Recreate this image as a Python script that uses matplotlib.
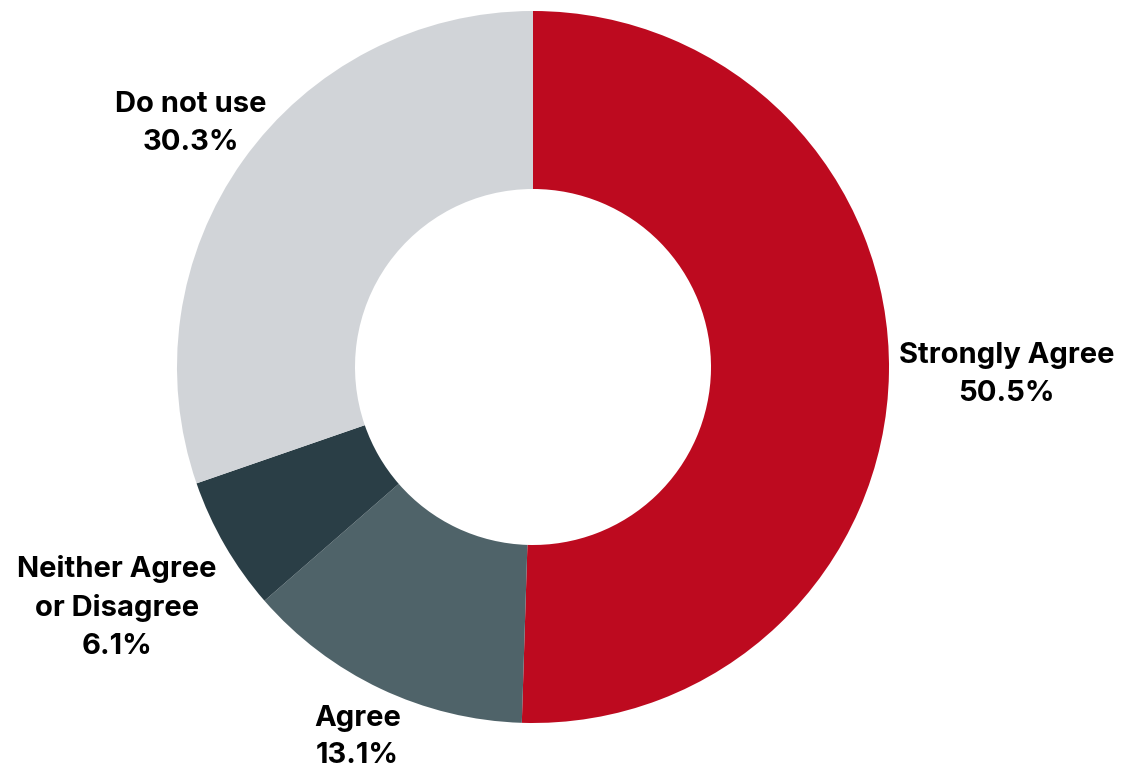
import numpy as np
import matplotlib
matplotlib.use("Agg")
import matplotlib.pyplot as plt

categories = ["Strongly Agree", "Agree", "Neither Agree\nor Disagree", "Do not use"]
shares = [50.5, 13.1, 6.1, 30.3]
colors = ["#BD0A1F", "#4F6369", "#2A3E46", "#D1D4D8"]
# how far out (in radii) each label sits along its wedge's middle angle
label_dist = [1.33, 1.15, 1.35, 1.18]

plt.rcParams["font.family"] = ["Inter", "DejaVu Sans"]

W, H = 1123, 773
fig = plt.figure(figsize=(W / 100, H / 100), dpi=100)
ax = fig.add_axes([0, 0, 1, 1])

cx, cy, r = 533, H - 367, 356
wedges, _ = ax.pie(
    shares, colors=colors, startangle=90, counterclock=False,
    radius=r, center=(cx, cy), frame=True,
    wedgeprops=dict(width=r / 2, edgecolor="none"),
)
ax.set_xlim(0, W)
ax.set_ylim(0, H)
ax.set_aspect("equal")
ax.axis("off")

for w, name, val, d in zip(wedges, categories, shares, label_dist):
    mid = np.deg2rad((w.theta1 + w.theta2) / 2)
    x = cx + r * d * np.cos(mid)
    y = cy + r * d * np.sin(mid)
    ax.text(x, y, f"{name}\n{val:.1f}%", ha="center", va="center",
            fontsize=21, fontweight="bold", color="black", linespacing=1.5)

fig.savefig("out.png", dpi=100, facecolor="white")
